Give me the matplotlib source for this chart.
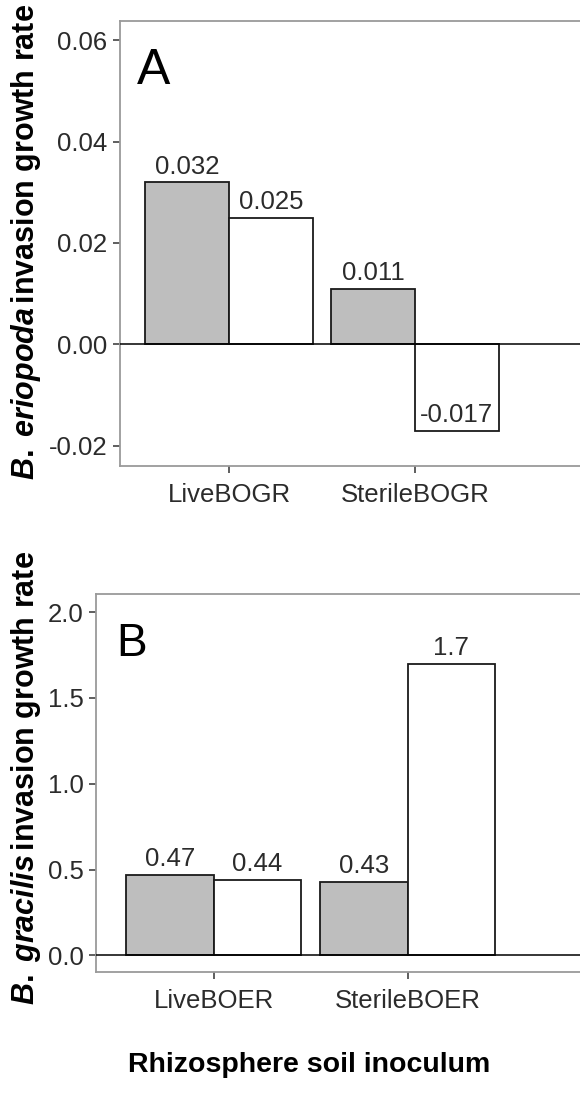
import matplotlib
matplotlib.use("Agg")
import matplotlib.pyplot as plt

plt.rcParams['font.family'] = ['Liberation Sans', 'DejaVu Sans']
plt.rcParams['mathtext.fontset'] = 'custom'
plt.rcParams['mathtext.rm'] = 'Liberation Sans:bold'
plt.rcParams['mathtext.it'] = 'Liberation Sans:italic:bold'
plt.rcParams['mathtext.bf'] = 'Liberation Sans:bold'
plt.rcParams['mathtext.bfit'] = 'Liberation Sans:italic:bold'

# Panel A: B. eriopoda invading BOGR soils
cats_a = ['LiveBOGR', 'SterileBOGR']
gray_a = [0.032, 0.011]
white_a = [0.025, -0.017]
yticks_a = [-0.02, 0.00, 0.02, 0.04, 0.06]

# Panel B: B. gracilis invading BOER soils
cats_b = ['LiveBOER', 'SterileBOER']
gray_b = [0.47, 0.43]
white_b = [0.44, 1.7]
yticks_b = [0.0, 0.5, 1.0, 1.5, 2.0]

W, H = 580, 1114
fig = plt.figure(figsize=(W / 100, H / 100), dpi=100)

TICK_FS = 18.5
LAB_FS = 20.5
YLAB_FS = 22
TXT = '#2b2b2b'
BORDER = '#9a9a9a'
BAR_EDGE = '#1a1a1a'
GRAY = '#bebebe'


def panel(left_px, top_px, bottom_px, right_px, cats, gvals, wvals, yticks,
          ylim, xlim_left, px_per_unit, ytick_fmt, letter, letter_xy, letter_fs):
    ax = fig.add_axes([left_px / W, 1 - bottom_px / H,
                       (right_px - left_px) / W, (bottom_px - top_px) / H])
    x = list(range(1, len(cats) + 1))
    bw = 0.45
    xg = [v - bw / 2 for v in x]
    xw = [v + bw / 2 for v in x]
    ax.bar(xg, gvals, width=bw, color=GRAY, edgecolor=BAR_EDGE, linewidth=1.3, zorder=2)
    ax.bar(xw, wvals, width=bw, color='white', edgecolor=BAR_EDGE, linewidth=1.3, zorder=2)
    ax.axhline(0, color='black', linewidth=1.1, zorder=3)
    for xs, vals in ((xg, gvals), (xw, wvals)):
        for xi, v in zip(xs, vals):
            ax.annotate(f'{v:g}', (xi, v), xytext=(0, 2.5), textcoords='offset points',
                        ha='center', va='bottom', fontsize=TICK_FS, color=TXT, zorder=4)
    ax.set_xlim(xlim_left, xlim_left + (right_px - left_px) / px_per_unit)
    ax.set_ylim(*ylim)
    ax.set_xticks(x)
    ax.set_xticklabels(cats)
    ax.set_yticks(yticks)
    ax.set_yticklabels([ytick_fmt.format(t) for t in yticks])
    ax.tick_params(axis='both', length=5, width=1.1, color='#333333',
                   labelsize=TICK_FS, labelcolor=TXT, direction='out')
    ax.tick_params(axis='x', pad=7)
    ax.tick_params(axis='y', pad=4)
    for s in ax.spines.values():
        s.set_color(BORDER)
        s.set_linewidth(1.3)
    ax.text(letter_xy[0], letter_xy[1], letter, transform=fig.transFigure,
            fontsize=letter_fs, color='black', ha='left', va='top')
    return ax


ax_a = panel(120, 21, 466, 720, cats_a, gray_a, white_a, yticks_a,
             (-0.024, 0.0638), 1 - 109 / 186, 186, '{:.2f}', 'A',
             (137 / W, 1 - 48 / H), 36)
ax_b = panel(96, 594, 972, 720, cats_b, gray_b, white_b, yticks_b,
             (-0.097, 2.105), 1 - 117.7 / 194, 194, '{:.1f}', 'B',
             (116 / W, 1 - 622 / H), 33)

fig.text(26 / W, 1 - 242 / H, r'$\mathit{B.}\;\mathit{eriopoda}\,$invasion growth rate',
         rotation=90, ha='center', va='center', fontsize=YLAB_FS, fontweight='bold')
fig.text(26 / W, 1 - 778 / H, r'$\mathit{B.}\;\mathit{gracilis}\,$invasion growth rate',
         rotation=90, ha='center', va='center', fontsize=YLAB_FS, fontweight='bold')
fig.text(309.5 / W, 1 - 1065 / H, 'Rhizosphere soil inoculum',
         ha='center', va='center', fontsize=LAB_FS, fontweight='bold')

fig.savefig('out.png', dpi=100)
